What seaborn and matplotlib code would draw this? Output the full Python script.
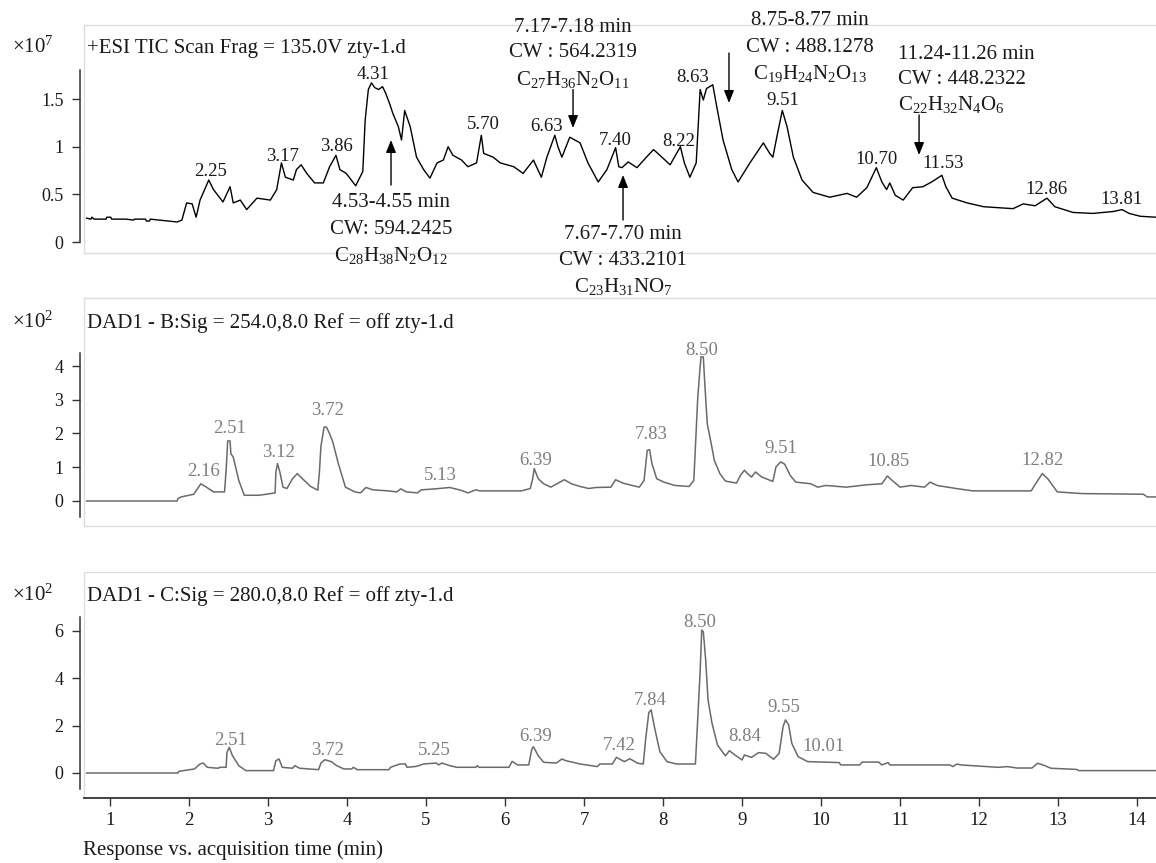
import matplotlib
matplotlib.use("Agg")
import matplotlib.pyplot as plt
import seaborn as sns

# ---------------- data ----------------
tic_time = [0.70, 0.76, 0.77, 0.80, 0.95, 0.96, 1.01, 1.02, 1.20, 1.30, 1.31, 1.45, 1.46, 1.50, 1.51, 1.62,
            1.85, 1.91, 1.97, 2.04, 2.09, 2.14, 2.25, 2.31, 2.43, 2.52, 2.56, 2.65, 2.73, 2.86, 3.03, 3.11,
            3.17, 3.22, 3.32, 3.36, 3.42, 3.49, 3.59, 3.70, 3.78, 3.86, 3.91, 3.99, 4.11, 4.20, 4.23, 4.27,
            4.31, 4.35, 4.40, 4.45, 4.49, 4.54, 4.58, 4.65, 4.69, 4.73, 4.80, 4.88, 4.97, 5.05, 5.14, 5.22,
            5.28, 5.34, 5.45, 5.53, 5.64, 5.70, 5.73, 5.85, 5.94, 6.11, 6.23, 6.36, 6.46, 6.53, 6.63, 6.67,
            6.72, 6.82, 6.95, 7.05, 7.18, 7.29, 7.40, 7.44, 7.48, 7.56, 7.67, 7.79, 7.88, 7.96, 8.09, 8.22,
            8.27, 8.34, 8.42, 8.47, 8.51, 8.55, 8.63, 8.68, 8.76, 8.87, 8.95, 9.10, 9.27, 9.35, 9.39, 9.44,
            9.51, 9.57, 9.65, 9.76, 9.90, 10.11, 10.33, 10.45, 10.58, 10.70, 10.77, 10.83, 10.87, 10.94,
            11.04, 11.16, 11.29, 11.40, 11.53, 11.58, 11.66, 11.85, 12.06, 12.43, 12.56, 12.71, 12.86,
            12.96, 13.19, 13.44, 13.70, 13.81, 13.90, 14.04, 14.24]
tic_signal = [0.25, 0.24, 0.26, 0.24, 0.24, 0.26, 0.26, 0.24, 0.24, 0.23, 0.24, 0.24, 0.22, 0.22, 0.24, 0.23,
              0.21, 0.23, 0.41, 0.40, 0.26, 0.44, 0.65, 0.55, 0.42, 0.58, 0.41, 0.44, 0.34, 0.46, 0.44, 0.55,
              0.83, 0.68, 0.65, 0.76, 0.81, 0.72, 0.62, 0.62, 0.79, 0.91, 0.76, 0.72, 0.59, 0.74, 1.28, 1.60,
              1.67, 1.62, 1.60, 1.63, 1.56, 1.45, 1.35, 1.21, 1.07, 1.38, 1.21, 0.89, 0.76, 0.67, 0.83, 0.86,
              1.00, 0.91, 0.86, 0.79, 0.83, 1.12, 0.93, 0.89, 0.83, 0.79, 0.72, 0.86, 0.68, 0.89, 1.12, 1.00,
              0.89, 1.10, 1.04, 0.83, 0.63, 0.76, 0.99, 0.79, 0.78, 0.84, 0.78, 0.89, 0.97, 0.91, 0.81, 1.00,
              0.83, 0.68, 0.83, 1.60, 1.49, 1.61, 1.65, 1.42, 1.07, 0.76, 0.63, 0.83, 1.04, 0.93, 0.89, 1.10,
              1.38, 1.21, 0.89, 0.65, 0.52, 0.47, 0.51, 0.47, 0.57, 0.78, 0.63, 0.55, 0.62, 0.49,
              0.44, 0.57, 0.58, 0.63, 0.70, 0.58, 0.46, 0.41, 0.37, 0.35, 0.40, 0.38, 0.46,
              0.37, 0.31, 0.30, 0.32, 0.34, 0.30, 0.27, 0.26]

dadb_time = [0.70, 1.85, 1.86, 1.90, 2.06, 2.08, 2.15, 2.22, 2.31, 2.45, 2.47, 2.49, 2.52, 2.53, 2.56, 2.63,
             2.70, 2.89, 3.09, 3.10, 3.12, 3.15, 3.19, 3.24, 3.31, 3.37, 3.45, 3.54, 3.63, 3.65, 3.67, 3.71,
             3.74, 3.78, 3.82, 3.89, 3.98, 4.10, 4.17, 4.24, 4.33, 4.52, 4.63, 4.68, 4.75, 4.89, 4.94, 5.12,
             5.30, 5.44, 5.53, 5.63, 5.68, 6.21, 6.32, 6.35, 6.37, 6.42, 6.49, 6.58, 6.75, 6.84, 6.95, 7.06,
             7.15, 7.34, 7.40, 7.49, 7.70, 7.76, 7.80, 7.83, 7.86, 7.92, 8.01, 8.15, 8.33, 8.39, 8.44, 8.48,
             8.51, 8.53, 8.56, 8.61, 8.65, 8.72, 8.79, 8.93, 8.98, 9.03, 9.08, 9.12, 9.17, 9.25, 9.39, 9.43,
             9.49, 9.54, 9.61, 9.68, 9.87, 9.96, 10.06, 10.32, 10.58, 10.77, 10.84, 10.90, 11.00, 11.14,
             11.31, 11.38, 11.47, 11.71, 11.92, 12.66, 12.73, 12.80, 12.87, 12.99, 13.30, 14.08, 14.13, 14.24]
dadb_signal = [0.00, 0.00, 0.07, 0.12, 0.20, 0.27, 0.51, 0.41, 0.27, 0.27, 0.91, 1.78, 1.78, 1.40, 1.30, 0.61,
               0.17, 0.17, 0.24, 0.86, 1.11, 0.86, 0.41, 0.37, 0.66, 0.81, 0.63, 0.43, 0.32, 0.83, 1.62, 2.19,
               2.19, 1.99, 1.75, 1.11, 0.41, 0.27, 0.24, 0.40, 0.33, 0.30, 0.27, 0.36, 0.27, 0.24, 0.33, 0.36,
               0.40, 0.32, 0.24, 0.33, 0.30, 0.30, 0.37, 0.66, 0.96, 0.66, 0.51, 0.41, 0.63, 0.51, 0.43, 0.37,
               0.40, 0.41, 0.63, 0.53, 0.41, 0.61, 1.50, 1.52, 1.11, 0.66, 0.56, 0.46, 0.43, 0.61, 3.08, 4.27,
               4.27, 3.43, 2.29, 1.70, 1.20, 0.81, 0.59, 0.53, 0.76, 0.91, 0.79, 0.71, 0.86, 0.71, 0.58, 1.01,
               1.16, 1.09, 0.76, 0.56, 0.51, 0.41, 0.46, 0.41, 0.48, 0.51, 0.74, 0.61, 0.41, 0.46,
               0.41, 0.56, 0.46, 0.37, 0.30, 0.30, 0.56, 0.81, 0.66, 0.27, 0.22, 0.20, 0.12, 0.12]

dadc_time = [0.70, 1.86, 1.87, 2.07, 2.14, 2.18, 2.23, 2.37, 2.39, 2.47, 2.48, 2.51, 2.55, 2.63, 2.72, 3.07,
             3.10, 3.14, 3.18, 3.31, 3.34, 3.40, 3.64, 3.67, 3.72, 3.80, 3.87, 3.96, 4.06, 4.08, 4.13, 4.53,
             4.55, 4.67, 4.74, 4.76, 4.88, 4.97, 5.13, 5.16, 5.20, 5.30, 5.39, 5.63, 5.65, 5.67, 6.05, 6.09,
             6.16, 6.30, 6.34, 6.36, 6.42, 6.49, 6.65, 6.72, 6.77, 6.95, 7.17, 7.20, 7.36, 7.41, 7.51, 7.58,
             7.68, 7.75, 7.78, 7.82, 7.85, 7.89, 7.96, 8.05, 8.17, 8.41, 8.43, 8.47, 8.49, 8.51, 8.54, 8.57,
             8.62, 8.69, 8.79, 8.84, 8.91, 9.00, 9.03, 9.12, 9.21, 9.30, 9.40, 9.47, 9.52, 9.55, 9.59, 9.63,
             9.71, 9.83, 10.23, 10.25, 10.49, 10.52, 10.73, 10.77, 10.85, 10.87, 11.63, 11.67, 11.72, 11.77,
             12.24, 12.36, 12.48, 12.67, 12.74, 12.81, 12.91, 13.24, 13.26, 14.24]
dadc_signal = [0.00, 0.00, 0.07, 0.17, 0.38, 0.42, 0.24, 0.20, 0.24, 0.24, 0.87, 1.08, 0.73, 0.31, 0.10, 0.10,
               0.52, 0.59, 0.24, 0.20, 0.31, 0.20, 0.14, 0.42, 0.56, 0.48, 0.31, 0.17, 0.17, 0.24, 0.14, 0.14,
               0.24, 0.38, 0.38, 0.24, 0.28, 0.38, 0.42, 0.34, 0.42, 0.31, 0.24, 0.24, 0.31, 0.24, 0.24, 0.49,
               0.34, 0.34, 1.01, 1.11, 0.73, 0.45, 0.42, 0.59, 0.52, 0.38, 0.27, 0.38, 0.38, 0.66, 0.48, 0.60,
               0.41, 0.38, 1.42, 2.55, 2.66, 1.96, 0.90, 0.48, 0.38, 0.38, 1.67, 4.28, 6.03, 5.96, 4.77, 3.08,
               2.10, 1.18, 0.72, 0.94, 0.76, 0.55, 0.76, 0.66, 0.86, 0.83, 0.58, 0.83, 1.96, 2.24, 2.03, 1.25,
               0.69, 0.48, 0.44, 0.34, 0.34, 0.46, 0.46, 0.34, 0.44, 0.34, 0.34, 0.27, 0.38, 0.34,
               0.24, 0.27, 0.21, 0.21, 0.41, 0.34, 0.20, 0.15, 0.10, 0.10]

tic_peak_labels = ["2.25", "3.17", "3.86", "4.31", "5.70", "6.63", "7.40", "8.22", "8.63", "9.51",
                   "10.70", "11.53", "12.86", "13.81"]
tic_peak_x = [2.27, 3.18, 3.86, 4.33, 5.72, 6.52, 7.39, 8.20, 8.38, 9.51, 10.70, 11.54, 12.85, 13.81]
tic_peak_y = [0.74, 0.90, 1.00, 1.76, 1.23, 1.21, 1.07, 1.05, 1.73, 1.49, 0.87, 0.82, 0.55, 0.45]

dadb_peak_labels = ["2.16", "2.51", "3.12", "3.72", "5.13", "6.39", "7.83", "8.50", "9.51", "10.85", "12.82"]
dadb_peak_x = [2.18, 2.51, 3.13, 3.75, 5.18, 6.39, 7.85, 8.49, 9.49, 10.85, 12.81]
dadb_peak_y = [0.86, 2.16, 1.45, 2.67, 0.77, 1.21, 1.96, 4.47, 1.57, 1.16, 1.19]

dadc_peak_labels = ["2.51", "3.72", "5.25", "6.39", "7.42", "7.84", "8.50", "8.84", "9.55", "10.01"]
dadc_peak_x = [2.53, 3.75, 5.11, 6.39, 7.44, 7.84, 8.47, 9.04, 9.53, 10.03]
dadc_peak_y = [1.39, 0.93, 0.93, 1.52, 1.18, 3.04, 6.33, 1.56, 2.78, 1.10]

# compound annotations on the TIC trace
ann_lines = [
    ["4.53-4.55 min", "CW: 594.2425", r"C$_{28}$H$_{38}$N$_{2}$O$_{12}$"],
    ["7.17-7.18 min", "CW : 564.2319", r"C$_{27}$H$_{36}$N$_{2}$O$_{11}$"],
    ["7.67-7.70 min", "CW : 433.2101", r"C$_{23}$H$_{31}$NO$_{7}$"],
    ["8.75-8.77 min", "CW : 488.1278", r"C$_{19}$H$_{24}$N$_{2}$O$_{13}$"],
    ["11.24-11.26 min", "CW : 448.2322", r"C$_{22}$H$_{32}$N$_{4}$O$_{6}$"],
]
ann_text_x = [4.557, 6.861, 7.494, 9.861, 10.975]
ann_text_ha = ["center", "center", "center", "center", "left"]
ann_baselines = [[0.367, 0.084, -0.200], [2.204, 1.941, 1.647], [0.031, -0.241, -0.525],
                 [2.277, 1.994, 1.710], [1.920, 1.658, 1.385]]
arrow_x = [4.557, 6.861, 7.494, 8.835, 11.241]
arrow_tail = [0.598, 1.600, 0.231, 1.983, 1.333]
arrow_tip = [1.070, 1.196, 0.703, 1.459, 0.913]

panel_titles = ["+ESI TIC Scan Frag = 135.0V zty-1.d",
                "DAD1 - B:Sig = 254.0,8.0 Ref = off zty-1.d",
                "DAD1 - C:Sig = 280.0,8.0 Ref = off zty-1.d"]
panel_scales = [r"×10$^{7}$", r"×10$^{2}$", r"×10$^{2}$"]
x_ticks = list(range(1, 15))
xlabel = "Response vs. acquisition time (min)"

# ---------------- style ----------------
sns.set_theme(style="white")
plt.rcParams["font.family"] = ["Liberation Serif", "DejaVu Serif"]
plt.rcParams["mathtext.fontset"] = "custom"
plt.rcParams["mathtext.rm"] = "Liberation Serif"
plt.rcParams["mathtext.it"] = "Liberation Serif:italic"
plt.rcParams["mathtext.bf"] = "Liberation Serif:bold"

W, H = 1156, 863
DARK = "#333333"
FRAME = "#dcdcdc"
TXT = "#1a1a1a"
GREY_TRACE = "#6a6a6a"
GREY_LABEL = "#7f7f7f"
XMIN, XMAX = 0.671, 14.24

fig = plt.figure(figsize=(W / 100, H / 100), dpi=100)
fig.patch.set_facecolor("white")


def add_panel(top_px, bot_px):
    return fig.add_axes([84 / W, (H - bot_px) / H, (W - 84) / W, (bot_px - top_px) / H])


def style_panel(ax, ylim, yticks, yticklabels, spine_bounds, bottom_axis=False):
    ax.set_xlim(XMIN, XMAX)
    ax.set_ylim(*ylim)
    ax.set_yticks(yticks)
    ax.set_yticklabels(yticklabels)
    ax.set_xlabel("")
    ax.set_ylabel("")
    for s in ["top", "bottom"]:
        ax.spines[s].set_color(FRAME)
        ax.spines[s].set_linewidth(1.0)
    ax.spines["right"].set_visible(False)
    ax.spines["left"].set_position(("outward", 2.9))
    ax.spines["left"].set_bounds(*spine_bounds)
    ax.spines["left"].set_color(DARK)
    ax.spines["left"].set_linewidth(1.1)
    ax.plot([0, 0], [0, 1], transform=ax.transAxes, color=FRAME, lw=1.0, clip_on=False)
    ax.tick_params(axis="y", left=True, direction="out", length=5.8, width=1.0,
                   color=DARK, pad=6, labelsize=13, labelcolor=TXT)
    if bottom_axis:
        ax.spines["bottom"].set_color(DARK)
        ax.spines["bottom"].set_linewidth(1.3)
        ax.set_xticks(x_ticks)
        ax.set_xticklabels([str(t) for t in x_ticks])
        ax.tick_params(axis="x", bottom=True, direction="out", length=5.8, width=1.0,
                       color=DARK, pad=4, labelsize=13.5, labelcolor=TXT)
    else:
        ax.set_xticks([])
    ax.set_facecolor("white")
    ax.grid(False)


ax1 = add_panel(25, 253)
ax2 = add_panel(298, 526)
ax3 = add_panel(572, 798)

sns.lineplot(x=tic_time, y=tic_signal, ax=ax1, color="black", lw=1.0, estimator=None, sort=False)
sns.lineplot(x=dadb_time, y=dadb_signal, ax=ax2, color=GREY_TRACE, lw=1.1, estimator=None, sort=False)
sns.lineplot(x=dadc_time, y=dadc_signal, ax=ax3, color=GREY_TRACE, lw=1.1, estimator=None, sort=False)

style_panel(ax1, (-0.1154, 2.277), [0, 0.5, 1, 1.5], ["0", "0.5", "1", "1.5"], (0, 1.80))
style_panel(ax2, (-0.741, 6.015), [0, 1, 2, 3, 4], ["0", "1", "2", "3", "4"], (-0.47, 4.39))
style_panel(ax3, (-1.055, 8.48), [0, 2, 4, 6], ["0", "2", "4", "6"], (-0.68, 6.58), bottom_axis=True)

# peak labels
for lab, x, y in zip(tic_peak_labels, tic_peak_x, tic_peak_y):
    ax1.text(x, y, lab, ha="center", va="center", fontsize=13.5, color=TXT)
for lab, x, y in zip(dadb_peak_labels, dadb_peak_x, dadb_peak_y):
    ax2.text(x, y, lab, ha="center", va="center", fontsize=13.5, color=GREY_LABEL)
for lab, x, y in zip(dadc_peak_labels, dadc_peak_x, dadc_peak_y):
    ax3.text(x, y, lab, ha="center", va="center", fontsize=13.5, color=GREY_LABEL)

# compound annotations
for lines, tx, ha, bls, axx, tail, tip in zip(ann_lines, ann_text_x, ann_text_ha, ann_baselines,
                                              arrow_x, arrow_tail, arrow_tip):
    for line, bl in zip(lines, bls):
        ax1.text(tx, bl, line, ha=ha, va="baseline", fontsize=15, color=TXT, clip_on=False)
    ax1.annotate("", xy=(axx, tip), xytext=(axx, tail),
                 arrowprops=dict(arrowstyle="-|>,head_length=0.75,head_width=0.3", color="black",
                                 lw=1.0, shrinkA=0, shrinkB=0, mutation_scale=10))

# panel titles and scale factors
title_baselines = [53, 328, 601]
for ax, title, scale, bl in zip([ax1, ax2, ax3], panel_titles, panel_scales, title_baselines):
    fig.text(87 / W, (H - bl) / H, title, ha="left", va="baseline", fontsize=15, color=TXT)
    fig.text(12 / W, (H - bl) / H, scale, ha="left", va="baseline", fontsize=15, color=TXT)

fig.text(83 / W, (H - 850) / H, xlabel, ha="left", va="center", fontsize=15, color=TXT)

fig.savefig("out.png", dpi=100, facecolor="white")
